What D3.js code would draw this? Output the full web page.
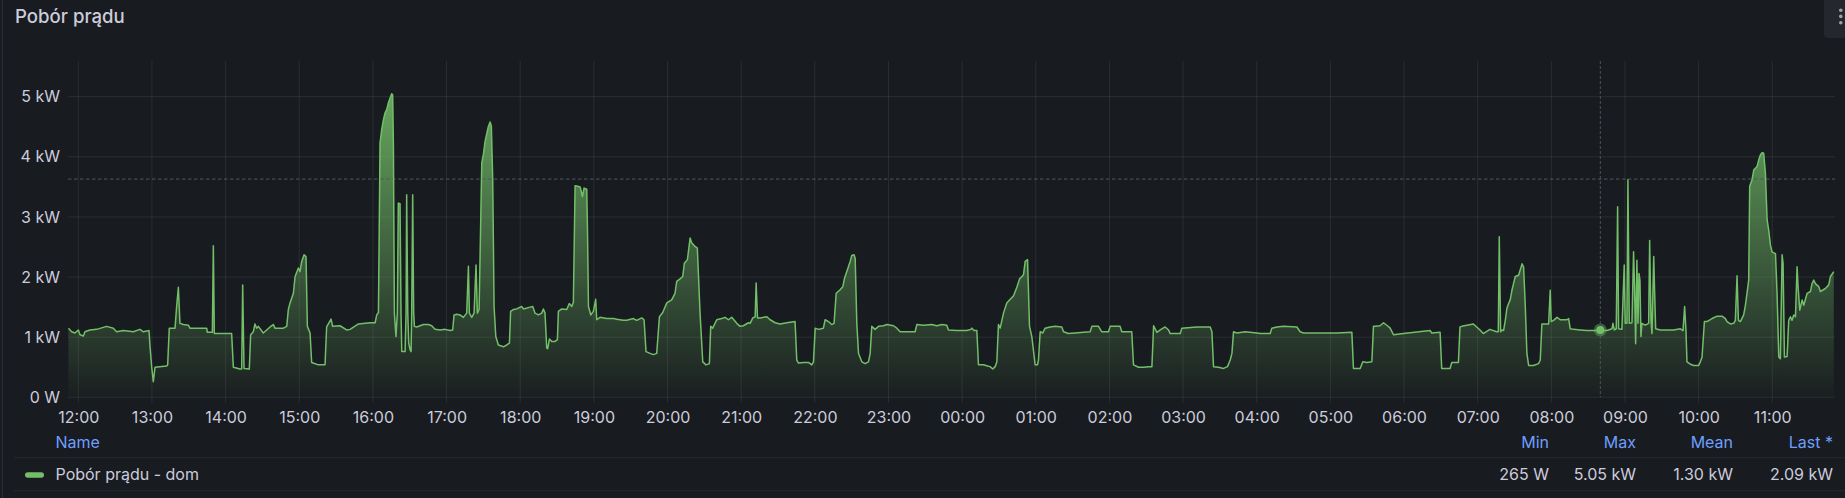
<!DOCTYPE html>
<html>
<head>
<meta charset="utf-8">
<script src="https://cdn.jsdelivr.net/npm/d3@7"></script>
<style>
  html, body { margin: 0; padding: 0; background: #181b1f; }
  svg { display: block; }
  text { font-family: Inter, "Noto Sans", "DejaVu Sans", sans-serif; }
</style>
</head>
<body>
<svg id="chart" width="1845" height="498"></svg>
<script>
// ---------------- DATA ----------------
const title = "Pobór prądu";
const seriesName = "Pobór prądu - dom";
// minutes relative to 12:00 of day 1
const minutes = [
-8.1,-5.4,-2.7,0,1.4,4.1,5.4,9.5,14.9,23.1,28.5,31.2,36.7,44.8,50.2,53.0,57.6,58.4,59.8,61.1,62.5,72.0,72.8,74.1,78.8,80.1,81.5,82.8,85.6,89.6,91.0,104.6,105.1,109.2,110.0,110.8,124.9,126.3,131.7,133.1,133.9,135.0,139.3,140.4,142.6,143.9,145.3,146.7,150.7,156.2,158.9,160.2,167.0,169.8,171.1,172.5,175.2,176.6,179.3,180.6,182.0,183.9,185.5,186.6,188.8,190.1,195.6,201.0,202.3,205.9,207.2,213.2,218.6,
221.4,228.2,237.7,241.8,243.1,244.5,245.8,247.2,248.6,249.9,251.3,252.6,254.0,255.3,256.1,256.7,257.5,258.8,259.9,260.7,262.1,262.9,263.5,266.2,267.0,267.5,268.4,269.2,270.3,271.1,271.6,272.4,273.2,273.8,275.7,278.4,281.1,285.2,287.9,290.6,294.7,298.8,302.8,305.0,306.1,308.3,311.0,313.7,316.4,317.8,318.6,320.5,322.4,324.0,325.1,326.5,327.3,328.7,330.0,331.4,332.7,334.1,335.5,336.5,337.6,338.7,340.1,342.2,346.3,349.0,351.2,352.2,354.4,357.1,361.2,362.6,368.0,370.2,372.1,374.8,377.5,378.9,380.2,381.6,382.4,383.8,385.7,388.4,390.3,391.1,393.8,397.9,400.0,402.0,403.3,404.7,406.9,408.8,410.7,412.0,414.2,414.8,415.6,417.5,419.6,421.5,422.3,425.0,430.5,435.9,438.6,444.0,446.8,452.2,454.9,459.0,460.9,462.5,465.8,468.5,471.2,473.4,476.1,479.4,483.4,486.1,487.5,490.2,492.4,493.7,496.2,498.4,499.7,502.4,504.3,506.5,508.7,511.4,514.1,515.2,516.8,520.1,524.2,526.9,529.6,532.3,536.4,539.1,541.8,545.9,
547.3,549.5,551.4,552.2,553.3,555.4,560.9,563.6,567.7,571.7,577.2,583.9,585.3,586.7,590.8,594.8,597.5,598.9,600.3,603.0,607.0,608.4,611.1,613.8,615.7,617.4,620.6,622.8,624.2,626.0,628.8,630.1,632.0,632.9,634.2,635.6,638.3,641.0,643.7,645.1,646.4,649.1,651.9,655.9,658.7,664.1,666.8,669.5,674.9,681.7,683.1,688.5,695.3,699.4,703.5,707.5,708.9,715.7,723.8,727.1,727.9,729.8,732.0,733.3,737.4,740.7,742.8,745.0,746.9,748.3,749.6,751.0,753.7,756.4,759.2,761.9,764.6,766.8,768.7,770.0,771.4,773.3,774.9,776.8,779.5,781.4,782.2,783.6,785.7,787.6,791.7,795.8,801.2,802.6,806.6,812.1,818.9,824.3,825.7,831.1,833.8,839.2,840.6,848.7,850.1,856.9,858.2,859.6,863.7,867.7,871.8,
873.2,874.6,876.0,878.7,881.4,885.4,888.2,889.5,897.7,899.0,911.2,922.1,923.5,924.8,928.9,933.0,936.2,938.4,939.8,941.1,943.8,950.6,960.1,962.8,971.0,972.3,976.4,981.8,992.7,995.4,998.1,1009.0,1025.3,1037.5,1038.8,1044.3,1046.4,1049.7,1053.8,1055.1,1056.5,1060.5,1063.3,1066.5,1068.7,1071.4,1079.5,1101.3,1102.6,1109.4,1110.7,1117.5,1118.9,1124.3,1125.6,1127.0,1136.5,1141.9,1144.6,1150.0,1155.4,1156.8,1157.6,1158.7,
1159.8,1161.1,1162.5,1163.8,1165.2,1166.5,1167.9,1169.3,1170.6,1173.3,1174.7,1176.1,1177.4,1178.8,1180.1,1181.5,1185.5,1189.6,1191.0,1192.3,1195.0,1197.8,1199.1,1199.9,1201.8,1204.6,1207.3,1212.7,1214.1,1215.4,1218.2,1223.6,1229.0,1235.8,1239.9,1245.3,1249.4,1250.2,1251.3,1252.9,1254.0,1254.8,1257.5,1259.4,1260.2,1261.6,1262.4,1263.5,1265.7,1267.0,1267.8,1268.7,1269.7,1270.6,1271.4,1272.2,1273.0,1273.8,1276.5,1279.3,1280.1,1281.2,1282.0,1283.4,1284.2,1285.0,1288.8,1294.2,1299.6,1305.1,1307.3,1308.6,1309.7,1310.5,1313.3,1316.0,1320.0,1321.4,1322.8,1324.7,1326.8,1330.9,1335.0,1339.1,1341.8,1343.1,1345.9,1348.6,1349.9,1351.3,1352.4,1354.0,1356.7,1358.1,1359.4,1360.8,1361.6,1363.5,1364.9,1367.6,1369.0,1370.3,1371.7,1373.0,1374.4,1375.8,1377.1,1378.5,1379.8,1382.6,1383.9,1385.3,1386.6,1388.0,1388.8,1389.9,1392.1,1393.4,1394.8,1396.1,1397.5,1398.9,1400.2,1401.0,1402.4,1404.3,1405.6,1408.4,1411.1,1412.4,1413.8,1415.1,1417.9,1419.2,1423.3,1426.0,1427.4,1430.1
];
// power in kW
const powerKW = [
1.15,1.09,1.07,1.12,1.04,1.02,1.09,1.12,1.13,1.18,1.15,1.09,1.11,1.09,1.13,1.09,1.11,0.85,0.50,0.26,0.50,0.52,0.54,1.15,1.15,1.51,1.83,1.23,1.21,1.20,1.15,1.15,1.08,1.08,2.52,1.06,1.06,0.50,0.47,0.47,1.87,0.48,0.47,1.04,1.09,1.22,1.15,1.18,1.07,1.17,1.21,1.15,1.15,1.18,1.46,1.57,1.73,2.01,2.15,2.09,2.26,2.37,2.34,1.18,1.07,0.58,0.54,0.54,1.17,1.30,1.18,1.19,1.12,
1.13,1.22,1.24,1.24,1.37,1.41,4.23,4.46,4.62,4.73,4.79,4.90,4.98,5.05,5.03,4.18,1.40,1.01,1.40,3.23,3.22,1.40,0.76,0.76,1.40,3.37,1.40,0.90,0.79,0.76,1.40,3.37,1.40,1.18,1.17,1.19,1.21,1.21,1.19,1.13,1.12,1.13,1.11,1.12,1.37,1.38,1.37,1.33,1.40,2.18,1.40,1.33,1.40,2.20,1.40,1.46,2.34,3.90,4.04,4.26,4.38,4.51,4.58,4.51,3.62,1.51,1.01,0.87,0.84,0.87,0.90,1.43,1.46,1.47,1.51,1.47,1.50,1.51,1.40,1.37,1.40,1.47,1.40,0.82,0.81,0.97,0.93,0.93,0.96,1.43,1.47,1.46,1.56,1.51,1.58,3.52,3.51,3.50,3.34,3.48,3.46,2.78,1.51,1.37,1.43,1.63,1.29,1.33,1.31,1.31,1.30,1.28,1.28,1.31,1.28,1.32,1.29,0.76,0.73,0.71,0.73,1.34,1.41,1.57,1.62,1.73,1.93,1.97,2.01,2.23,2.29,2.65,2.57,2.51,2.48,1.40,0.59,0.54,0.56,1.18,1.15,1.29,1.31,1.33,1.29,1.33,1.23,1.18,1.19,1.24,
1.23,1.32,1.34,1.90,1.32,1.32,1.34,1.29,1.24,1.22,1.24,1.26,0.62,0.57,0.58,0.58,0.54,0.59,1.15,1.13,1.15,1.29,1.26,1.21,1.23,1.73,1.79,1.84,1.98,2.09,2.26,2.36,2.37,2.31,1.23,0.73,0.59,0.56,0.59,0.73,1.18,1.13,1.18,1.19,1.21,1.19,1.15,1.09,1.09,1.09,1.21,1.20,1.21,1.19,1.21,1.20,1.12,1.11,1.11,1.13,1.15,1.11,1.11,0.54,0.54,0.52,0.51,0.47,0.51,0.59,1.21,1.15,1.40,1.57,1.63,1.69,1.83,1.97,2.01,2.04,2.26,2.29,1.18,1.01,0.54,0.54,0.62,1.09,1.07,1.15,1.17,1.18,1.17,1.09,1.06,1.07,1.08,1.09,1.18,1.18,1.09,1.09,1.18,1.18,1.09,1.09,1.09,0.54,0.50,0.50,0.51,
0.51,0.51,1.19,1.08,1.12,1.17,1.12,1.06,1.06,1.15,1.17,1.17,1.09,0.51,0.50,0.48,0.51,0.62,0.73,1.09,1.07,1.09,1.07,1.06,1.06,1.15,1.17,1.18,1.17,1.09,1.07,1.07,1.07,1.08,0.48,0.48,0.59,0.58,0.59,1.18,1.18,1.19,1.24,1.19,1.15,1.04,1.06,1.11,1.07,1.08,0.48,0.48,0.58,0.58,1.17,1.18,1.22,1.12,1.06,1.13,1.09,1.09,2.67,1.09,
1.12,1.11,1.28,1.48,1.56,1.62,1.78,1.90,2.01,2.03,2.12,2.22,2.17,1.51,0.73,0.53,0.53,0.56,0.62,1.22,1.22,1.22,1.78,1.26,1.28,1.33,1.29,1.29,1.31,1.14,1.13,1.12,1.11,1.11,1.12,1.11,1.14,1.23,1.12,1.14,3.17,1.14,1.13,2.20,1.23,1.23,3.62,1.23,1.24,2.42,1.84,0.89,2.28,1.23,2.06,1.95,1.01,1.23,1.20,1.23,2.61,1.28,1.06,2.34,1.73,1.14,1.12,1.12,1.12,1.14,1.11,1.51,1.11,0.59,0.55,0.53,0.53,0.59,0.67,1.26,1.26,1.31,1.35,1.35,1.31,1.26,1.22,1.23,1.28,2.02,1.28,1.26,1.37,1.53,1.73,1.95,3.51,3.62,3.78,3.84,3.95,4.03,4.07,4.06,3.73,2.95,2.78,2.53,2.42,2.39,1.73,0.67,0.64,2.37,2.23,0.67,0.68,1.28,1.34,1.28,1.37,1.34,2.17,1.84,1.45,1.62,1.53,1.73,1.76,1.89,1.95,1.89,1.84,1.76,1.81,1.87,2.01,2.09
];
const yTicksKW = [0, 1, 2, 3, 4, 5];
const thresholdKW = 3.63;
const hoverMinute = 1239.9;           // cursor position (08:40)
const domainMinutes = [-8.4, 1431.1];  // 11:51:36 -> 11:51:06 next day
const legendHeaders = ["Min", "Max", "Mean", "Last *"];
const legendStats = ["265 W", "5.05 kW", "1.30 kW", "2.09 kW"];

// ---------------- DRAW ----------------
const W = 1845, H = 498;
const plot = { left: 68, right: 1835, top: 61, bottom: 397.3 };
const base = new Date(2024, 0, 15, 12, 0, 0);
const toDate = m => new Date(base.getTime() + m * 60000);
const data = minutes.map((m, i) => ({ t: toDate(m), v: powerKW[i] }));

const GREEN = "#73bf69";
const TEXT = "rgb(204,204,220)";
const BLUE = "#6e9fff";
const GRID = "rgba(204,204,220,0.1)";

const svg = d3.select("#chart");
svg.append("rect").attr("width", W).attr("height", H).attr("fill", "#181b1f");
// panel border left
svg.append("line").attr("x1", 2.5).attr("x2", 2.5).attr("y1", 0).attr("y2", H)
  .attr("stroke", "#2a2d33").attr("stroke-width", 1);

// title
svg.append("text").attr("x", 15).attr("y", 23.3).text(title)
  .attr("fill", TEXT).attr("font-size", 18.6).attr("font-weight", 500);

// menu button
svg.append("rect").attr("x", 1824).attr("y", -6).attr("width", 30).attr("height", 44).attr("rx", 4)
  .attr("fill", "#24272d");
[10.2, 16.4, 22.8].forEach(cy => svg.append("circle").attr("cx", 1840.8).attr("cy", cy).attr("r", 1.8).attr("fill", "#9da0a8"));

const x = d3.scaleTime().domain(domainMinutes.map(toDate)).range([plot.left, plot.right]);
const y = d3.scaleLinear().domain([0, 5]).range([plot.bottom, 96.7]);

// grid - horizontal
const gH = svg.append("g");
gH.selectAll("line").data(yTicksKW).join("line")
  .attr("x1", plot.left).attr("x2", plot.right)
  .attr("y1", d => y(d)).attr("y2", d => y(d))
  .attr("stroke", GRID).attr("stroke-width", 1);

// grid - vertical (hourly), extending below as tick marks
const hours = x.ticks(d3.timeHour.every(1));
svg.append("g").selectAll("line").data(hours).join("line")
  .attr("x1", d => x(d)).attr("x2", d => x(d))
  .attr("y1", plot.top).attr("y2", plot.bottom + 5.5)
  .attr("stroke", GRID).attr("stroke-width", 1);

// y axis labels
const fmtPower = v => v === 0 ? "0 W" : v + " kW";
const yAxis = d3.axisLeft(y).tickValues(yTicksKW).tickFormat(fmtPower).tickSize(0).tickPadding(0);
const gy = svg.append("g").attr("transform", "translate(60,0)").call(yAxis);
gy.select(".domain").remove();
gy.selectAll("text").attr("fill", TEXT).attr("font-size", 16).attr("font-family", "Inter, 'Noto Sans', sans-serif");

// x axis labels
const xAxis = d3.axisBottom(x).ticks(d3.timeHour.every(1)).tickFormat(d3.timeFormat("%H:%M")).tickSize(0).tickPadding(0);
const gx = svg.append("g").attr("transform", "translate(0,417.3)").call(xAxis);
gx.select(".domain").remove();
gx.selectAll("text").attr("fill", TEXT).attr("font-size", 16).attr("dy", "0.35em")
  .attr("font-family", "Inter, 'Noto Sans', sans-serif");

// gradient for fill
const defs = svg.append("defs");
const grad = defs.append("linearGradient").attr("id", "fillGrad")
  .attr("gradientUnits", "userSpaceOnUse")
  .attr("x1", 0).attr("x2", 0).attr("y1", plot.top).attr("y2", plot.bottom);
grad.append("stop").attr("offset", 0).attr("stop-color", GREEN).attr("stop-opacity", 0.95);
grad.append("stop").attr("offset", 1).attr("stop-color", GREEN).attr("stop-opacity", 0.02);

const clip = defs.append("clipPath").attr("id", "plotClip");
clip.append("rect").attr("x", plot.left).attr("y", plot.top).attr("width", plot.right - plot.left).attr("height", plot.bottom - plot.top);

const area = d3.area().x(d => x(d.t)).y0(y(0)).y1(d => y(d.v));
const line = d3.line().x(d => x(d.t)).y(d => y(d.v));

const gp = svg.append("g").attr("clip-path", "url(#plotClip)");
gp.append("path").datum(data).attr("d", area).attr("fill", "url(#fillGrad)");

// threshold dashed line
gp.append("line").attr("x1", plot.left).attr("x2", plot.right)
  .attr("y1", y(thresholdKW)).attr("y2", y(thresholdKW))
  .attr("stroke", "#54575e").attr("stroke-width", 1).attr("stroke-dasharray", "3.5,2.5");

gp.append("path").datum(data).attr("d", line).attr("fill", "none")
  .attr("stroke", GREEN).attr("stroke-width", 1.5).attr("stroke-linejoin", "round");

// crosshair + hover point
const hx = x(toDate(hoverMinute));
const hi = minutes.indexOf(hoverMinute);
svg.append("line").attr("x1", hx).attr("x2", hx).attr("y1", plot.top).attr("y2", plot.bottom)
  .attr("stroke", "#4f525a").attr("stroke-width", 1).attr("stroke-dasharray", "3,2");
svg.append("circle").attr("cx", hx).attr("cy", y(powerKW[hi])).attr("r", 6.5)
  .attr("fill", GREEN).attr("fill-opacity", 0.4);
svg.append("circle").attr("cx", hx).attr("cy", y(powerKW[hi])).attr("r", 4)
  .attr("fill", GREEN);

// legend
const sepColor = "rgba(204,204,220,0.08)";
svg.append("text").attr("x", 55.5).attr("y", 442.3).attr("dy", "0.35em").text("Name")
  .attr("fill", BLUE).attr("font-size", 16);
const colRight = [1549, 1636, 1733, 1833];
legendHeaders.forEach((h, i) => {
  svg.append("text").attr("x", colRight[i]).attr("y", 442.3).attr("dy", "0.35em")
    .attr("text-anchor", "end").text(h).attr("fill", BLUE).attr("font-size", 16);
  svg.append("text").attr("x", colRight[i]).attr("y", 474.3).attr("dy", "0.35em")
    .attr("text-anchor", "end").text(legendStats[i]).attr("fill", TEXT).attr("font-size", 16);
});
svg.append("line").attr("x1", 14).attr("x2", W).attr("y1", 457.7).attr("y2", 457.7).attr("stroke", sepColor);
svg.append("line").attr("x1", 14).attr("x2", W).attr("y1", 490.8).attr("y2", 490.8).attr("stroke", sepColor);
svg.append("rect").attr("x", 25).attr("y", 472.2).attr("width", 19).attr("height", 5.6).attr("rx", 2.8)
  .attr("fill", GREEN);
svg.append("text").attr("x", 55.5).attr("y", 474.3).attr("dy", "0.35em").text(seriesName)
  .attr("fill", TEXT).attr("font-size", 16);
</script>
</body>
</html>
